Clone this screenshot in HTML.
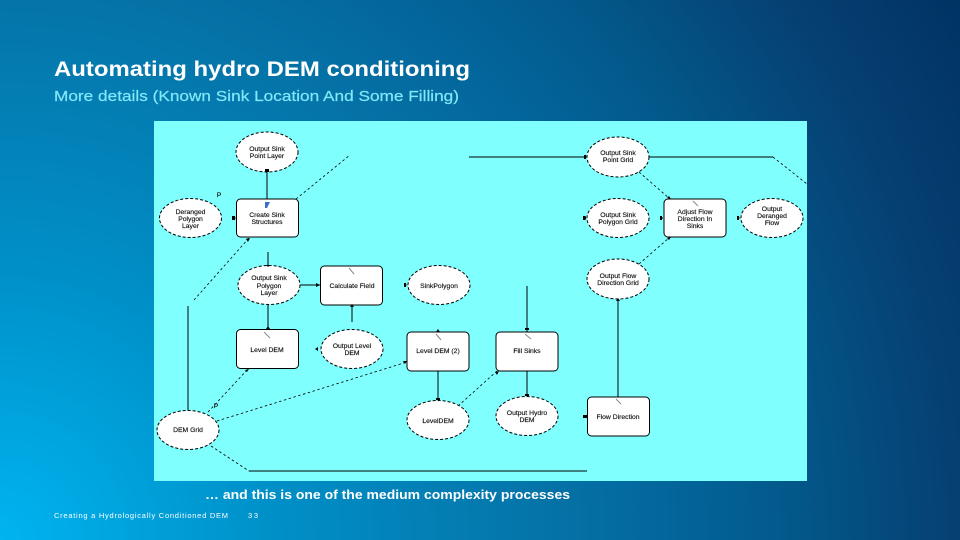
<!DOCTYPE html>
<html><head><meta charset="utf-8"><title>Automating hydro DEM conditioning</title>
<style>
html,body{margin:0;padding:0;width:960px;height:540px;overflow:hidden}
body{background:radial-gradient(circle farthest-corner at 0 100%,#00b4f0 0%,#0090c8 24.5%,#0574a8 49%,#03649a 62%,#03588a 72%,#063f72 87%,#003364 100%)}
svg{position:absolute;left:0;top:0}
text{font-family:"Liberation Sans",sans-serif}
.h{fill:#fff}
.n ellipse,.n rect{fill:#fff;stroke:#000;stroke-width:1;stroke-dasharray:3 2}
.n rect{stroke-dasharray:none}
.l text{font-size:6.8px;text-anchor:middle;fill:#111;stroke:#111;stroke-width:.15}
.c path{fill:none;stroke:#000;stroke-width:1}
.c .d{stroke-dasharray:2.5 2.5;stroke-width:.8}
.a path{fill:#000}
.t path{fill:none;stroke:#888;stroke-width:1}
</style></head><body>
<svg width="960" height="540" viewBox="0 0 960 540">
<text class="h" x="54" y="76" font-size="21.500" font-weight="700" textLength="416" lengthAdjust="spacingAndGlyphs">Automating hydro DEM conditioning</text>
<text x="54" y="101" font-size="15" fill="#80e8f8" stroke="#80e8f8" stroke-width=".2" textLength="405" lengthAdjust="spacingAndGlyphs">More details (Known Sink Location And Some Filling)</text>
<rect x="154" y="121" width="653" height="360" fill="#80ffff"/>
<g class="c">
<path d="M267 199V172"/>
<path class="d" d="M296 199L350 155"/>
<path class="d" d="M194 300L249 238"/>
<path d="M268 252V266"/>
<path d="M300 285H320"/>
<path d="M268 305V329"/>
<path d="M188 410V306"/>
<path class="d" d="M208 412L248 369"/>
<path class="d" d="M217 421L407 362"/>
<path class="d" d="M211 446L249 471"/>
<path d="M249 471H587"/>
<path d="M352 322V305"/>
<path d="M438 371V400"/>
<path class="d" d="M458 406L497 371"/>
<path d="M527 286V332"/>
<path d="M527 371V396"/>
<path d="M618 397V299"/>
<path d="M469 157H587"/>
<path d="M649 157H773"/>
<path class="d" d="M773 157L807 184"/>
<path class="d" d="M639 172L670 199"/>
<path class="d" d="M639 264L670 237"/>
</g>
<g class="n">
<ellipse cx="267" cy="152" rx="31" ry="20"/>
<ellipse cx="190.500" cy="218" rx="31" ry="19.500"/>
<rect x="236.500" y="199" width="62" height="38" rx="4"/>
<ellipse cx="269" cy="285" rx="31" ry="19.500"/>
<rect x="320.500" y="266" width="62" height="39" rx="4"/>
<ellipse cx="439" cy="285" rx="31" ry="19.500"/>
<ellipse cx="618" cy="157" rx="31" ry="20"/>
<ellipse cx="618" cy="218" rx="31" ry="19.500"/>
<rect x="664" y="199" width="62" height="38" rx="4"/>
<ellipse cx="772" cy="218" rx="31" ry="19.500"/>
<ellipse cx="618" cy="279" rx="31" ry="20"/>
<rect x="236.500" y="329.500" width="62" height="39" rx="4"/>
<ellipse cx="352" cy="349" rx="31" ry="19.500"/>
<rect x="407" y="332" width="62" height="39" rx="4"/>
<ellipse cx="438" cy="420" rx="31" ry="19.500"/>
<ellipse cx="188" cy="430" rx="31" ry="19.500"/>
<rect x="496" y="332" width="62" height="39" rx="4"/>
<ellipse cx="527" cy="416" rx="31" ry="19.500"/>
<rect x="587.500" y="397" width="62" height="39" rx="4"/>
</g>
<g class="a">
<path d="M265 172h4l-2 -3z"/><path d="M265 172h4v-3h-4z"/>
<path d="M233 216v4l3 -2z"/><path d="M232 216h3v4h-3z"/>
<path d="M249 238l-3 1 2 2z"/><path d="M250 238l-4 1 2 3z"/>
<path d="M266 265h4l-2 2z"/>
<path d="M316 283v4l4 -2z"/>
<path d="M404 283v4l3 -2z"/><path d="M404 283h2v4h-2z"/>
<path d="M586 155v4l-2 -2z"/><path d="M584 155h2v4h-2z"/>
<path d="M586 216v4l-3 -2z"/><path d="M583 216h2v4h-2z"/>
<path d="M661 216v4l2 -2z"/><path d="M660 216h2v4h-2z"/>
<path d="M737 216v4l3 -2z"/><path d="M737 216h2v4h-2z"/>
<path d="M671 199l-4 -1 2 -2z"/><path d="M671 237l-4 1 2 2z"/>
<path d="M616 301h4l-2 -3z"/>
<path d="M266 329h4l-2 -3z"/>
<path d="M249 369l-4 1 2 2z"/>
<path d="M318 347v4l-3 -2z"/>
<path d="M350 307h4l-2 -3z"/>
<path d="M407 361l-4 0 2 3z"/>
<path d="M436 332h4l-2 -3z"/>
<path d="M436 398h4v2h-4z"/>
<path d="M525 330h4v-2h-4z"/>
<path d="M525 394h4v2h-4z"/>
<path d="M499 371l-4 1 2 3z"/>
<path d="M587 415v3h-4v-3z"/>
</g>
<g class="t">
<path d="M349 268l5 6"/>
<path d="M693 201l5 5"/>
<path d="M264 332l6 6"/>
<path d="M436 334l5 6"/>
<path d="M525 334l6 5"/>
<path d="M616 399l5 5"/>
</g>
<g fill="#3a6fd0"><path d="M265 202h5l-3 6h-2z"/></g>
<g class="l">
<text x="267" y="151">Output Sink</text><text x="267" y="158">Point Layer</text>
<text x="190.500" y="214">Deranged</text><text x="190.500" y="221">Polygon</text><text x="190.500" y="228">Layer</text>
<text x="267" y="217">Create Sink</text><text x="267" y="224">Structures</text>
<text x="269" y="280">Output Sink</text><text x="269" y="288">Polygon</text><text x="269" y="295">Layer</text>
<text x="352" y="288">Calculate Field</text>
<text x="439" y="288">SinkPolygon</text>
<text x="618" y="155">Output Sink</text><text x="618" y="162">Point Grid</text>
<text x="618" y="217">Output Sink</text><text x="618" y="224">Polygon Grid</text>
<text x="695" y="214">Adjust Flow</text><text x="695" y="221">Direction In</text><text x="695" y="228">Sinks</text>
<text x="772" y="211">Output</text><text x="772" y="218">Deranged</text><text x="772" y="225">Flow</text>
<text x="618" y="278">Output Flow</text><text x="618" y="285">Direction Grid</text>
<text x="267" y="352">Level DEM</text>
<text x="352" y="348">Output Level</text><text x="352" y="355">DEM</text>
<text x="438" y="353">Level DEM (2)</text>
<text x="438" y="423">LevelDEM</text>
<text x="188" y="432">DEM Grid</text>
<text x="527" y="353">Fill Sinks</text>
<text x="527" y="415">Output Hydro</text><text x="527" y="422">DEM</text>
<text x="618" y="419">Flow Direction</text>
<text x="219" y="197">P</text>
<text x="216" y="408">P</text>
</g>
<text class="h" x="205" y="499" font-size="12.500" font-weight="700" textLength="365" lengthAdjust="spacingAndGlyphs">… and this is one of the medium complexity processes</text>
<text class="h" x="54" y="518" font-size="7.500" textLength="174">Creating a Hydrologically Conditioned DEM</text>
<text class="h" x="248" y="518" font-size="7.500" textLength="10">33</text>
</svg>
</body></html>
